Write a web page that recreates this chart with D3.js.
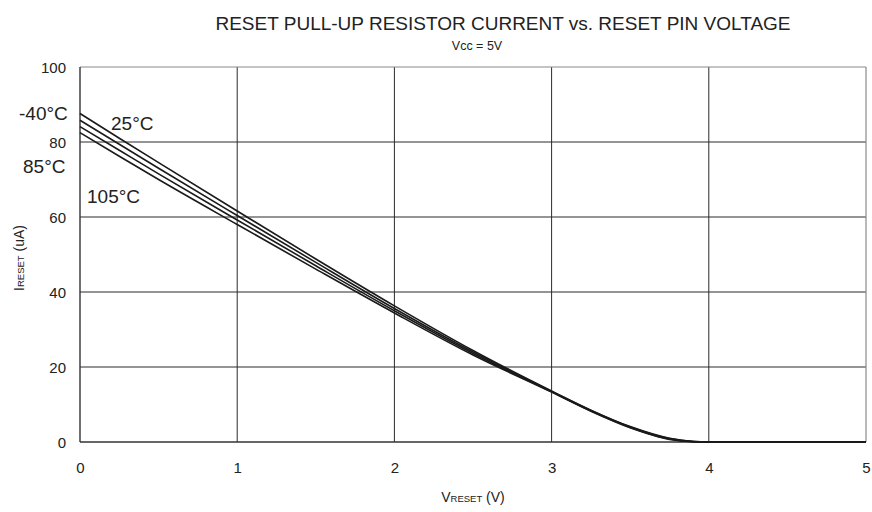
<!DOCTYPE html>
<html>
<head>
<meta charset="utf-8">
<script src="https://cdn.jsdelivr.net/npm/d3@7"></script>
<style>
  body { margin: 0; background: #fff; }
  svg { display: block; font-family: "Liberation Sans", Arial, sans-serif; }
</style>
</head>
<body>
<svg id="chart" width="872" height="512"></svg>
<script>
// Reset pin voltage (V)
const voltage = [0, 0.25, 0.5, 1, 1.5, 2, 2.5, 3, 3.25, 3.5, 3.75, 3.9, 4, 4.5, 5];
// Pull-up current (uA) per temperature
const currentM40 = [87.6, 81.0, 74.5, 61.6, 48.8, 36.3, 24.4, 13.6, 8.5, 4.1, 1.0, 0.15, 0, 0, 0];
const current25  = [85.8, 79.4, 73.0, 60.4, 47.9, 35.6, 24.0, 13.5, 8.4, 4.0, 0.9, 0.12, 0, 0, 0];
const current85  = [84.1, 77.8, 71.5, 59.2, 47.0, 35.0, 23.6, 13.4, 8.3, 3.9, 0.8, 0.1, 0, 0, 0];
const current105 = [82.5, 76.2, 70.0, 58.0, 46.1, 34.4, 23.2, 13.3, 8.2, 3.8, 0.7, 0.08, 0, 0, 0];
const seriesNames = ["-40°C", "25°C", "85°C", "105°C"];
const xTicks = [0, 1, 2, 3, 4, 5];
const yTicks = [0, 20, 40, 60, 80, 100];

const series = [currentM40, current25, current85, current105].map((vals, i) => ({
  name: seriesNames[i],
  points: voltage.map((v, j) => [v, vals[j]])
}));

const svg = d3.select("#chart");
const m = { left: 80, right: 6, top: 67, bottom: 70 };
const W = 872, H = 512;
const x = d3.scaleLinear().domain([0, 5]).range([m.left, W - m.right]);
const y = d3.scaleLinear().domain([0, 100]).range([H - m.bottom, m.top]);

// Grid
svg.append("g").selectAll("line.vg").data(xTicks.slice(1, -1)).join("line")
  .attr("x1", d => x(d)).attr("x2", d => x(d))
  .attr("y1", y(0)).attr("y2", y(100))
  .attr("stroke", "#2a2a2a").attr("stroke-width", 1);
svg.append("g").selectAll("line.hg").data(yTicks.slice(1, -1)).join("line")
  .attr("x1", x(0)).attr("x2", x(5))
  .attr("y1", d => y(d)).attr("y2", d => y(d))
  .attr("stroke", "#2a2a2a").attr("stroke-width", 1);

// Frame: top and right lighter, left and bottom dark
svg.append("line").attr("x1", x(0)).attr("x2", x(5)).attr("y1", y(100)).attr("y2", y(100))
  .attr("stroke", "#8a8a8a").attr("stroke-width", 1.2);
svg.append("line").attr("x1", x(5)).attr("x2", x(5)).attr("y1", y(0)).attr("y2", y(100))
  .attr("stroke", "#8a8a8a").attr("stroke-width", 1.2);
svg.append("line").attr("x1", x(0)).attr("x2", x(0)).attr("y1", y(0)).attr("y2", y(100))
  .attr("stroke", "#333").attr("stroke-width", 1.4);
svg.append("line").attr("x1", x(0)).attr("x2", x(5)).attr("y1", y(0)).attr("y2", y(0))
  .attr("stroke", "#333").attr("stroke-width", 1.4);

// Axes (labels only)
const xAxis = svg.append("g").attr("transform", `translate(0,${y(0) + 26})`)
  .call(d3.axisBottom(x).tickValues(xTicks).tickSize(0).tickFormat(d3.format("d")));
const yAxis = svg.append("g").attr("transform", `translate(${x(0) - 11},0)`)
  .call(d3.axisLeft(y).tickValues(yTicks).tickSize(0).tickFormat(d3.format("d")));
[xAxis, yAxis].forEach(a => {
  a.select(".domain").remove();
  a.selectAll("text").attr("font-size", 15).attr("fill", "#222")
    .attr("font-family", "Liberation Sans, Arial, sans-serif");
});
xAxis.selectAll("text").attr("dy", "0.35em").attr("y", 0);
yAxis.selectAll("text").attr("dy", "0.35em");

// Curves
const line = d3.line().x(d => x(d[0])).y(d => y(d[1])).curve(d3.curveMonotoneX);
svg.append("g").selectAll("path").data(series).join("path")
  .attr("d", d => line(d.points))
  .attr("fill", "none").attr("stroke", "#1a1a1a").attr("stroke-width", 1.6);

// Temperature labels
const tempLabels = [
  { t: "-40°C", x: 19, y: 120 },
  { t: "25°C", x: 111, y: 130 },
  { t: "85°C", x: 23, y: 173 },
  { t: "105°C", x: 87, y: 203 }
];
svg.append("g").selectAll("text").data(tempLabels).join("text")
  .attr("x", d => d.x).attr("y", d => d.y)
  .attr("font-size", 19).attr("fill", "#222").text(d => d.t);

// Titles
svg.append("text").attr("x", 503).attr("y", 30).attr("text-anchor", "middle")
  .attr("font-size", 19).attr("fill", "#222")
  .text("RESET PULL-UP RESISTOR CURRENT vs. RESET PIN VOLTAGE");
svg.append("text").attr("x", 477).attr("y", 50).attr("text-anchor", "middle")
  .attr("font-size", 12.5).attr("fill", "#222").text("Vcc = 5V");

// Axis titles with subscripts
const xt = svg.append("text").attr("x", 473).attr("y", 502).attr("text-anchor", "middle")
  .attr("font-size", 14).attr("fill", "#222");
xt.append("tspan").text("V");
xt.append("tspan").attr("font-size", 9.5).text("RESET");
xt.append("tspan").text(" (V)");

const yt = svg.append("text").attr("transform", "translate(24,258) rotate(-90)")
  .attr("text-anchor", "middle").attr("font-size", 14).attr("fill", "#222");
yt.append("tspan").text("I");
yt.append("tspan").attr("font-size", 9.5).text("RESET");
yt.append("tspan").text(" (uA)");
</script>
</body>
</html>
